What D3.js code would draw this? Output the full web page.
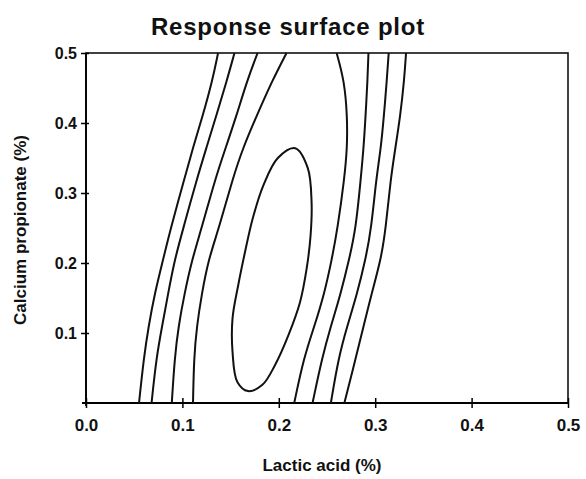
<!DOCTYPE html>
<html>
<head>
<meta charset="utf-8">
<script src="https://cdn.jsdelivr.net/npm/d3@7"></script>
<style>
  body { margin: 0; background: #fff; }
  text { font-family: "Liberation Sans", Arial, sans-serif; fill: #111; }
</style>
</head>
<body>
<script>
// y levels the contour branches were read at (Calcium propionate %)
var yLevels = [0.5, 0.46, 0.41, 0.365, 0.32, 0.25, 0.205, 0.155, 0.11, 0.065, 0.0];

// x positions (Lactic acid %) of each branch at those y levels
var level1Left  = [0.137, 0.131, 0.121, 0.111, 0.102, 0.088, 0.080, 0.071, 0.065, 0.060, 0.055];
var level2Left  = [0.154, 0.146, 0.135, 0.125, 0.115, 0.101, 0.092, 0.085, 0.079, 0.073, 0.068];
var level3Left  = [0.178, 0.167, 0.156, 0.145, 0.134, 0.120, 0.110, 0.102, 0.096, 0.092, 0.089];
var level4Left  = [0.208, 0.193, 0.177, 0.163, 0.152, 0.138, 0.127, 0.120, 0.115, 0.112, 0.111];
var level4Right = [0.260, 0.268, 0.271, 0.271, 0.268, 0.261, 0.255, 0.247, 0.237, 0.226, 0.216];
var level3Right = [0.293, 0.292, 0.290, 0.288, 0.285, 0.280, 0.273, 0.264, 0.254, 0.245, 0.235];
var level2Right = [0.314, 0.312, 0.309, 0.306, 0.301, 0.296, 0.290, 0.281, 0.271, 0.262, 0.254];
var level1Right = [0.332, 0.330, 0.326, 0.321, 0.316, 0.311, 0.306, 0.296, 0.288, 0.280, 0.268];

// innermost closed contour, read going round clockwise from the top
var innerX = [0.217, 0.230, 0.234, 0.233, 0.229, 0.222, 0.210, 0.196, 0.183, 0.168, 0.157, 0.152, 0.152, 0.158, 0.165, 0.173, 0.184, 0.199];
var innerY = [0.364, 0.336, 0.287, 0.240, 0.193, 0.144, 0.097, 0.054, 0.026, 0.017, 0.030, 0.073, 0.121, 0.169, 0.216, 0.264, 0.311, 0.350];

var xTicks = [0.0, 0.1, 0.2, 0.3, 0.4, 0.5];
var yTicks = [0.1, 0.2, 0.3, 0.4, 0.5];

var W = 586, H = 479;
var margin = {top: 53, right: 18, bottom: 76, left: 86};

var svg = d3.select("body").append("svg")
    .attr("width", W)
    .attr("height", H);

var x = d3.scaleLinear().domain([0, 0.5]).range([margin.left, W - margin.right]);
var y = d3.scaleLinear().domain([0, 0.5]).range([H - margin.bottom, margin.top]);

// plot frame
svg.append("rect")
    .attr("x", x(0))
    .attr("y", y(0.5))
    .attr("width", x(0.5) - x(0))
    .attr("height", y(0) - y(0.5))
    .attr("fill", "none")
    .attr("stroke", "#111")
    .attr("stroke-width", 1.6);

// x axis
var xAxis = svg.append("g")
    .attr("transform", "translate(0," + y(0) + ")")
    .call(d3.axisBottom(x).tickValues(xTicks).tickFormat(d3.format(".1f")).tickSize(5).tickPadding(11));
xAxis.select(".domain").attr("stroke-width", 1.8).attr("d", "M" + (x(0) - 4) + ",0H" + x(0.5));
xAxis.selectAll(".tick line").attr("y1", -5).attr("y2", 5).attr("stroke-width", 1.5);
xAxis.selectAll(".tick text")
    .style("font-size", "17px")
    .style("font-weight", "bold")
    .attr("fill", "#111");

// y axis
var yAxis = svg.append("g")
    .attr("transform", "translate(" + x(0) + ",0)")
    .call(d3.axisLeft(y).tickValues(yTicks).tickFormat(d3.format(".1f")).tickSize(5).tickPadding(4));
yAxis.select(".domain").attr("stroke-width", 1.8).attr("d", "M0," + (y(0) + 3) + "V" + y(0.5));
yAxis.selectAll(".tick line").attr("x1", -5).attr("x2", 3).attr("stroke-width", 1.5);
yAxis.selectAll(".tick text")
    .style("font-size", "16px")
    .style("font-weight", "bold")
    .attr("fill", "#111");

// Titles
svg.append("text")
    .attr("x", 288)
    .attr("y", 35)
    .attr("text-anchor", "middle")
    .style("font-size", "24px")
    .style("font-weight", "bold")
    .style("letter-spacing", "0.8px")
    .text("Response surface plot");

svg.append("text")
    .attr("x", 322)
    .attr("y", 471)
    .attr("text-anchor", "middle")
    .style("font-size", "17px")
    .style("font-weight", "bold")
    .text("Lactic acid (%)");

svg.append("text")
    .attr("transform", "translate(26," + 230 + ") rotate(-90)")
    .attr("text-anchor", "middle")
    .style("font-size", "17px")
    .style("font-weight", "bold")
    .text("Calcium propionate (%)");

// contour branches
var branches = [level1Left, level2Left, level3Left, level4Left, level4Right, level3Right, level2Right, level1Right];

var line = d3.line()
    .x(function(d) { return x(d[0]); })
    .y(function(d) { return y(d[1]); })
    .curve(d3.curveBasis);

var contours = svg.append("g")
    .attr("fill", "none")
    .attr("stroke", "#111")
    .attr("stroke-width", 2);

branches.forEach(function(b) {
    contours.append("path")
        .datum(b.map(function(v, i) { return [v, yLevels[i]]; }))
        .attr("d", line);
});

var closedLine = d3.line()
    .x(function(d) { return x(d[0]); })
    .y(function(d) { return y(d[1]); })
    .curve(d3.curveCatmullRomClosed.alpha(0.5));

contours.append("path")
    .datum(innerX.map(function(v, i) { return [v, innerY[i]]; }))
    .attr("d", closedLine);
</script>
</body>
</html>
